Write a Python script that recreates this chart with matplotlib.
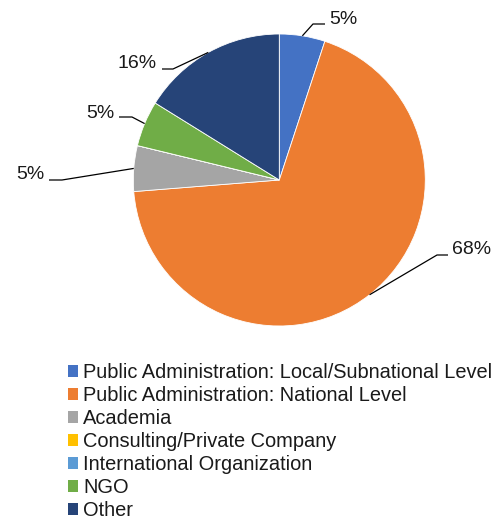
import numpy as np
import matplotlib.pyplot as plt
from matplotlib.patches import Patch

plt.rcParams['font.family'] = ['Liberation Sans', 'DejaVu Sans']

categories = [
    'Public Administration: Local/Subnational Level',
    'Public Administration: National Level',
    'Academia',
    'Consulting/Private Company',
    'International Organization',
    'NGO',
    'Other',
]
shares = [5, 68, 5, 0, 0, 5, 16]
colors = ['#4472C4', '#ED7D31', '#A5A5A5', '#FFC000', '#5B9BD5', '#70AD47', '#264478']

W, H = 495, 518
cx, cy, R = 279.3, 180.0, 146.0


def px(x, y):
    # pixel position (from top-left) -> data units with pie radius 1
    return (x - cx) / R, (cy - y) / R


fig = plt.figure(figsize=(W / 100, H / 100), dpi=100)
ax = fig.add_axes([0, 0, 1, 1])

wedges, _ = ax.pie(shares, colors=colors, startangle=90, counterclock=False,
                   radius=1, center=(0, 0), frame=True,
                   wedgeprops=dict(linewidth=0.6, edgecolor='white'))
ax.axis('off')
ax.set_aspect('equal')
ax.set_xlim(-cx / R, (W - cx) / R)
ax.set_ylim((cy - H) / R, cy / R)

# leader layout per slice: elbow, line end, text anchor, alignment (pixels)
leaders = {
    0: ((313, 24), (325, 24), (329, 19), 'left'),
    1: ((437, 255), (448, 255), (452, 249), 'left'),
    2: ((62, 180), (49, 180), (44, 174), 'right'),
    5: ((132, 117), (119, 117), (114, 113), 'right'),
    6: ((173, 69), (162, 69), (157, 63), 'right'),
}
for i, (elbow, end, txt, ha) in leaders.items():
    w = wedges[i]
    ang = np.deg2rad((w.theta1 + w.theta2) / 2)
    rim = (np.cos(ang), np.sin(ang))
    ex, ey = px(*elbow)
    nx, ny = px(*end)
    ax.plot([rim[0], ex, nx], [rim[1], ey, ny], color='black', lw=0.9,
            solid_capstyle='butt')
    tx, ty = px(*txt)
    ax.text(tx, ty, f'{shares[i]}%', ha=ha, va='center', fontsize=14,
            color='#1a1a1a')

handles = [Patch(facecolor=c, edgecolor='none') for c in colors]
fig.legend(handles, categories, loc='upper left',
           bbox_to_anchor=(68 / W, 1 - 363 / H), frameon=False,
           fontsize=14.4, handlelength=0.5, handleheight=0.5,
           handletextpad=0.25, labelspacing=0.2, borderpad=0,
           borderaxespad=0, labelcolor='#1a1a1a')

fig.savefig('out.png', dpi=100, facecolor='white')
